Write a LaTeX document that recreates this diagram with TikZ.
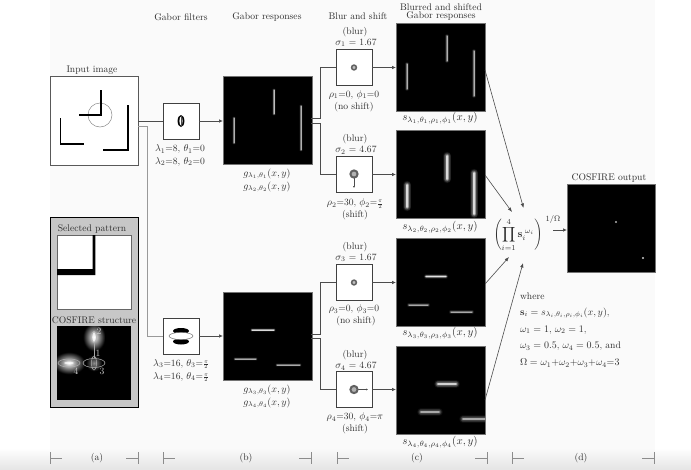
\documentclass[tikz,border=0pt]{standalone}
\usepackage{amsmath,amssymb}
\usetikzlibrary{arrows.meta,positioning,calc}
\newcommand{\glowline}[4]{%
  \foreach \f/\o in {3.4/.05,2.8/.07,2.2/.1,1.7/.14,1.2/.25,.7/.5}{%
    \pgfmathsetmacro{\oo}{min(1,\o*#4)}%
    \draw[white,opacity=\oo,line width={\f*#3},line cap=round] #1 -- #2;}%
}
\newcommand{\scalemark}[4]{%
  \draw[scalebar] (#1,452) -- (#1,464) (#1,458) -- ++(12,0);
  \draw[scalebar] (#2,452) -- (#2,464) (#2,458) -- ++(-12,0);
  \node[txt] (lab#3) at (#4,458) {(#3)};
}
\newcommand{\smallpi}{\scalebox{.78}{$\frac{\pi}{2}$}}
\tikzset{
  x=1pt,y=-1pt,
  txt/.style={inner sep=0pt,outer sep=0pt,text=black!82,font=\fontsize{9.6}{11}\selectfont,align=center},
  pic img/.style={anchor=north west,fill=black,draw=black!55,line width=.5pt,inner sep=0pt,outer sep=0pt,minimum width=89pt,minimum height=88pt},
  small box/.style={anchor=north west,fill=white,draw=black!75,line width=.7pt,inner sep=0pt,outer sep=0pt,minimum width=36pt,minimum height=36pt},
  conn/.style={draw=black!70,line width=.7pt,-{Latex[length=4pt,width=3.5pt]}},
  plain/.style={draw=black!70,line width=.7pt},
  greyconn/.style={draw=black!40,line width=1pt},
  diag/.style={draw=black!70,line width=.6pt,-{Latex[length=4.5pt,width=3.5pt]}},
  scalebar/.style={draw=black!45,line width=.5pt},
  ringsmall/.style={draw=black!62,line width=1.5pt,fill=black!25},
  ringbig/.style={draw=black!62,line width=2pt,fill=black!30},
}
\begin{document}
\begin{tikzpicture}
\useasboundingbox (0,0) rectangle (691,469);
% page
\fill[white] (0,0) rectangle (691,469);
\fill[black!2] (50,0) rectangle (655,448);
\shade[top color=white,bottom color=black!10] (0,448) rectangle (50,469);
\shade[top color=black!2,bottom color=black!10] (50,448) rectangle (655,469);
\shade[top color=white,bottom color=black!10] (655,448) rectangle (691,469);

% input image
\node[anchor=north west,fill=white,draw=black!65,line width=.7pt,inner sep=0pt,outer sep=0pt,minimum width=88pt,minimum height=89pt] (input) at (50,76) {};
\node[txt] (inputlab) at (92,70) {Input image};
\draw[black!45,line width=.5pt] (100,115) circle (12);
\draw[black,line width=2pt] (100.5,90) -- (100.5,115) -- (79,115);
\draw[black,line width=1.4pt] (60.5,118) -- (60.5,144) -- (84,144);
\draw[black,line width=1.4pt] (128,105) -- (128,150) -- (103,150);

% left panel
\node[anchor=north west,fill=black!22,draw=black,line width=.9pt,inner sep=0pt,outer sep=0pt,minimum width=88pt,minimum height=190pt] (panel) at (50,217) {};
\node[txt] (selected) at (92,229) {Selected pattern};
\node[anchor=north west,fill=white,draw=black!60,line width=.5pt,inner sep=0pt,outer sep=0pt,minimum width=74pt,minimum height=74pt] (pattern) at (57,235) {};
\fill[black] (92.7,235) rectangle (95.3,275) (57,269) rectangle (95.3,275);
\node[txt] (structlab) at (94,320.5) {COSFIRE structure};
\node[anchor=north west,fill=black,inner sep=0pt,outer sep=0pt,minimum width=74pt,minimum height=74pt] (struct) at (57,326) {};
\begin{scope}
\clip (57,326) rectangle (131,400);
\shade[inner color=white,outer color=black] (83,323) rectangle (105,351);
\shade[inner color=white,outer color=black] (53,352) rectangle (85,374);
\shade[inner color=black!45,outer color=black] (86,355) rectangle (102,371);
\end{scope}
\fill[white,opacity=.7] (94,337) ellipse (1.6 and 5);
\fill[white,opacity=.7] (69,363) ellipse (5 and 1.2);
\draw[black!35,line width=.6pt] (94,343) -- (94,358);
\draw[black!30,line width=.5pt] (94,337) ellipse (2.5 and 6);
\draw[black!30,line width=.5pt] (94,363) ellipse (2.5 and 7);
\draw[black!30,line width=.5pt] (94,363) ellipse (11 and 4.5);
\draw[black!30,line width=.5pt] (69,363) ellipse (11 and 4);
\node[txt,text=black!20] (n2) at (99,331) {2};
\node[txt,text=black!20] (n1) at (98,353) {1};
\node[txt,text=black!20] (n3) at (102,371) {3};
\node[txt,text=black!20] (n4) at (76,371) {4};

% headers
\node[txt] (h1) at (181,17) {Gabor filters};
\node[txt] (h2) at (267,17) {Gabor responses};
\node[txt] (h3) at (358,16) {Blur and shift};
\node[txt] (h4a) at (441,7) {Blurred and shifted};
\node[txt] (h4b) at (441,16.5) {Gabor responses};

% Gabor filters
\node[small box] (gf1) at (163,103) {};
\node[small box] (gf2) at (163,318) {};
\fill[black] (181,121) ellipse (3.4 and 6);
\fill[white] (181,121) ellipse (1.6 and 4.4);
\fill[black!70] (180.7,115) rectangle (181.3,127);
\fill[black] (181,331) ellipse (8 and 3);
\fill[black] (181,341.5) ellipse (8 and 3);
\draw[black!55,fill=white,line width=.5pt] (181,336) ellipse (12 and 3.6);
\node[txt] (gf1a) at (180,149) {$\lambda_1$=8, $\theta_1$=0};
\node[txt] (gf1b) at (180,161.5) {$\lambda_2$=8, $\theta_2$=0};
\node[txt] (gf2a) at (181,364) {$\lambda_3$=16, $\theta_3$=\smallpi};
\node[txt] (gf2b) at (181,377) {$\lambda_4$=16, $\theta_4$=\smallpi};

% Gabor responses
\node[pic img] (r1) at (223,76) {};
\node[pic img] (r2) at (223,292) {};
\glowline{(234,118)}{(234,143)}{.9}{.9}
\glowline{(274,90)}{(274,114)}{.9}{1}
\glowline{(301,106)}{(301,150)}{.9}{.9}
\glowline{(252,330)}{(274,330)}{1}{1.3}
\glowline{(235,359)}{(256,359)}{1}{.85}
\glowline{(277,365)}{(300,365)}{1}{.85}
\node[txt] (r1a) at (267,174) {$g_{\lambda_1,\theta_1}(x,y)$};
\node[txt] (r1b) at (267,187) {$g_{\lambda_2,\theta_2}(x,y)$};
\node[txt] (r2a) at (267,390) {$g_{\lambda_3,\theta_3}(x,y)$};
\node[txt] (r2b) at (267,403) {$g_{\lambda_4,\theta_4}(x,y)$};

% blur boxes
\node[small box] (b1) at (336,49.5) {};
\node[small box] (b2) at (336,156.5) {};
\node[small box] (b3) at (336,264.5) {};
\node[small box] (b4) at (336,371.5) {};
\draw[ringsmall] (354,67.5) circle (2.4);
\draw[black!70,line width=.5pt,-{Latex[length=2pt,width=2pt]}] (354,178) -- (354,188);
\draw[ringbig] (354,174) circle (3.6);
\draw[ringsmall] (354,282.5) circle (2.4);
\draw[black!70,line width=.5pt,-{Latex[length=2pt,width=2pt]}] (358,389.5) -- (368,389.5);
\draw[ringbig] (354,389.5) circle (3.6);
\node[txt] (bl1) at (355,32) {(blur)};
\node[txt] (bs1) at (356,43) {$\sigma_1$ = 1.67};
\node[txt] (rho1) at (354,94.5) {$\rho_1$=0, $\phi_1$=0};
\node[txt] (sh1) at (354,107) {(no shift)};
\node[txt] (bl2) at (355,139) {(blur)};
\node[txt] (bs2) at (356,150) {$\sigma_2$ = 4.67};
\node[txt] (rho2) at (355,203.5) {$\rho_2$=30, $\phi_2$=\smallpi};
\node[txt] (sh2) at (355,215.5) {(shift)};
\node[txt] (bl3) at (355,247) {(blur)};
\node[txt] (bs3) at (356,258) {$\sigma_3$ = 1.67};
\node[txt] (rho3) at (354,309) {$\rho_3$=0, $\phi_3$=0};
\node[txt] (sh3) at (356,321) {(no shift)};
\node[txt] (bl4) at (355,355) {(blur)};
\node[txt] (bs4) at (356,366) {$\sigma_4$ = 4.67};
\node[txt] (rho4) at (355,417) {$\rho_4$=30, $\phi_4$=$\pi$};
\node[txt] (sh4) at (355,429) {(shift)};

% blurred images
\node[pic img] (s1) at (396,23) {};
\node[pic img] (s2) at (396,130) {};
\node[pic img] (s3) at (396,238) {};
\node[pic img] (s4) at (396,346) {};
\glowline{(447,36)}{(447,61)}{1.2}{.9}
\glowline{(407,64)}{(407,89)}{1.2}{.9}
\glowline{(474,51)}{(474,96)}{1.2}{.9}
\glowline{(447,156)}{(447,179)}{2.5}{1.3}
\glowline{(407,185)}{(407,207)}{2.5}{1.3}
\glowline{(474,173)}{(474,214)}{2.5}{1.3}
\glowline{(426,276.5)}{(446,276.5)}{1.3}{1.4}
\glowline{(409,305)}{(428,305)}{1.3}{.85}
\glowline{(451,312)}{(472,312)}{1.3}{.85}
\glowline{(438,384)}{(456,384)}{2.3}{1.2}
\glowline{(421,412)}{(439,412)}{2.3}{.85}
\begin{scope}
\clip (396,346) rectangle (485,434);
\glowline{(463,419)}{(488,419)}{2.3}{.85}
\end{scope}
\node[txt,scale=1.1] (sl1) at (440,118) {$s_{\lambda_1,\theta_1,\rho_1,\phi_1}(x,y)$};
\node[txt,scale=1.1] (sl2) at (440,227) {$s_{\lambda_2,\theta_2,\rho_2,\phi_2}(x,y)$};
\node[txt,scale=1.1] (sl3) at (440,333) {$s_{\lambda_3,\theta_3,\rho_3,\phi_3}(x,y)$};
\node[txt,scale=1.1] (sl4) at (440,442) {$s_{\lambda_4,\theta_4,\rho_4,\phi_4}(x,y)$};

% formula, output
\node[txt,scale=1.08] (prod) at (518,235) {$\displaystyle\left(\prod_{i=1}^{4}\mathbf{s}_i^{\;\omega_i}\right)$};
\node[txt,font=\fontsize{8.5}{10}\selectfont] (omega) at (553,219) {$1/\Omega$};
\node[pic img,minimum height=88pt,minimum width=88pt] (out) at (567,184) {};
\fill[black!30] (616,222) circle (1.1);
\fill[black!20] (643,258) circle (1.1);
\node[txt] (outlab) at (609,178) {COSFIRE output};
\node[txt,anchor=west] (w1) at (520,296) {where};
\node[txt,anchor=west] (w2) at (520,313) {$\mathbf{s}_i = s_{\lambda_i,\theta_i,\rho_i,\phi_i}(x,y)$,};
\node[txt,anchor=west] (w3) at (520,330) {$\omega_1 = 1$, $\omega_2 = 1$,};
\node[txt,anchor=west] (w4) at (520,346.5) {$\omega_3 = 0.5$, $\omega_4 = 0.5$, and};
\node[txt,anchor=west] (w5) at (520,363) {$\Omega = \omega_1{+}\omega_2{+}\omega_3{+}\omega_4{=}3$};

% connectors
\coordinate (inA) at (input.east |- gf1.west);
\coordinate (inB) at (138,126);
\coordinate (inBc) at (147,126);
\draw[plain] (inA) -- (gf1.west);
\draw[greyconn] (inB) -- (inBc) |- (gf2.west);
\draw[conn] (gf1.east) -- (gf1.east -| r1.west);
\draw[conn] (gf2.east) -- (gf2.east -| r2.west);
\coordinate (r1up) at (311,118);
\coordinate (r1dn) at (311,123);
\coordinate (r2up) at (311,334);
\coordinate (r2dn) at (311,338.5);
\draw[plain] (r1up) -- (320,118) |- (b1.west);
\draw[plain] (r1dn) -- (320,123) |- (b2.west);
\draw[plain] (r2up) -- (320,334) |- (b3.west);
\draw[plain] (r2dn) -- (320,338.5) |- (b4.west);
\draw[conn] (b1.east) -- (b1.east -| s1.west);
\draw[conn] (b2.east) -- (b2.east -| s2.west);
\draw[conn] (b3.east) -- (b3.east -| s3.west);
\draw[conn] (b4.east) -- (b4.east -| s4.west);
\coordinate (t1) at (523.5,208);
\coordinate (t2) at (512,212);
\coordinate (t3) at (509,257);
\coordinate (t4) at (523,263);
\coordinate (f1) at (485,70);
\coordinate (f2) at (485,175);
\coordinate (f3) at (485,284);
\coordinate (f4) at (485,400);
\draw[diag] (f1) -- (t1);
\draw[diag] (f2) -- (t2);
\draw[diag] (f3) -- (t3);
\draw[diag] (f4) -- (t4);
\coordinate (oa) at (553,230);
\draw[conn] (oa) -- (oa -| out.west);

% scale
\scalemark{50}{138}{a}{97}
\scalemark{163}{311}{b}{246}
\scalemark{337}{487}{c}{417}
\scalemark{512}{654}{d}{581}
\end{tikzpicture}
\end{document}
